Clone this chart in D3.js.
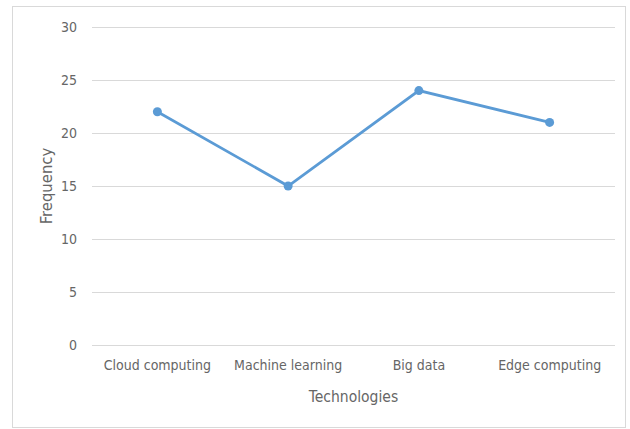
<!DOCTYPE html>
<html>
<head>
<meta charset="utf-8">
<script src="https://cdn.jsdelivr.net/npm/d3@7"></script>
<style>
  body { margin: 0; background: #fff; }
  text { font-family: "Liberation Sans Narrow", "DejaVu Sans Condensed", "Liberation Sans", sans-serif; fill: #666; }
</style>
</head>
<body>
<div id="chart"></div>
<script>
const categories = ["Cloud computing", "Machine learning", "Big data", "Edge computing"];
const frequency = [22, 15, 24, 21];
const yTicks = [0, 5, 10, 15, 20, 25, 30];

const size = {
    width: 630,
    height: 429,
    margin: { top: 27, right: 15, bottom: 84, left: 92 }
};

const svg = d3.select("#chart")
    .append("svg")
    .attr("width", size.width)
    .attr("height", size.height);

// outer frame
svg.append("rect")
    .attr("x", 12.5).attr("y", 6.5)
    .attr("width", 613).attr("height", 421)
    .attr("fill", "#fff")
    .attr("stroke", "#d9d9d9");

const x = d3.scaleBand()
    .domain(categories)
    .range([size.margin.left, size.width - size.margin.right]);

const y = d3.scaleLinear()
    .domain([0, 30])
    .range([size.height - size.margin.bottom, size.margin.top]);

// gridlines + y labels
svg.append("g")
    .attr("transform", `translate(${size.margin.left},0)`)
    .call(d3.axisLeft(y).tickValues(yTicks)
        .tickSize(-(size.width - size.margin.left - size.margin.right))
        .tickPadding(15))
    .call(g => g.select(".domain").remove())
    .call(g => g.selectAll(".tick line").attr("stroke", "#d9d9d9"))
    .call(g => g.selectAll(".tick text").attr("font-size", 14).attr("fill", "#666"));

// x labels
svg.append("g")
    .attr("transform", `translate(0,${size.height - size.margin.bottom})`)
    .call(d3.axisBottom(x).tickSize(0).tickPadding(15))
    .call(g => g.select(".domain").remove())
    .call(g => g.selectAll(".tick text").attr("font-size", 14).attr("fill", "#666"));

// line
const line = d3.line()
    .x((d, i) => x(categories[i]) + x.bandwidth() / 2)
    .y(d => y(d));

svg.append("path")
    .datum(frequency)
    .attr("d", line)
    .attr("fill", "none")
    .attr("stroke", "#5b9bd5")
    .attr("stroke-width", 2.75);

svg.selectAll("circle.pt")
    .data(frequency)
    .enter().append("circle")
    .attr("class", "pt")
    .attr("cx", (d, i) => x(categories[i]) + x.bandwidth() / 2)
    .attr("cy", d => y(d))
    .attr("r", 4.5)
    .attr("fill", "#5b9bd5");

// axis titles
svg.append("text")
    .attr("x", (size.margin.left + size.width - size.margin.right) / 2)
    .attr("y", 402)
    .attr("text-anchor", "middle")
    .attr("font-size", 15.5)
    .text("Technologies");

svg.append("text")
    .attr("transform", `translate(52,${(y(0) + y(30)) / 2}) rotate(-90)`)
    .attr("text-anchor", "middle")
    .attr("font-size", 16.5)
    .text("Frequency");
</script>
</body>
</html>
